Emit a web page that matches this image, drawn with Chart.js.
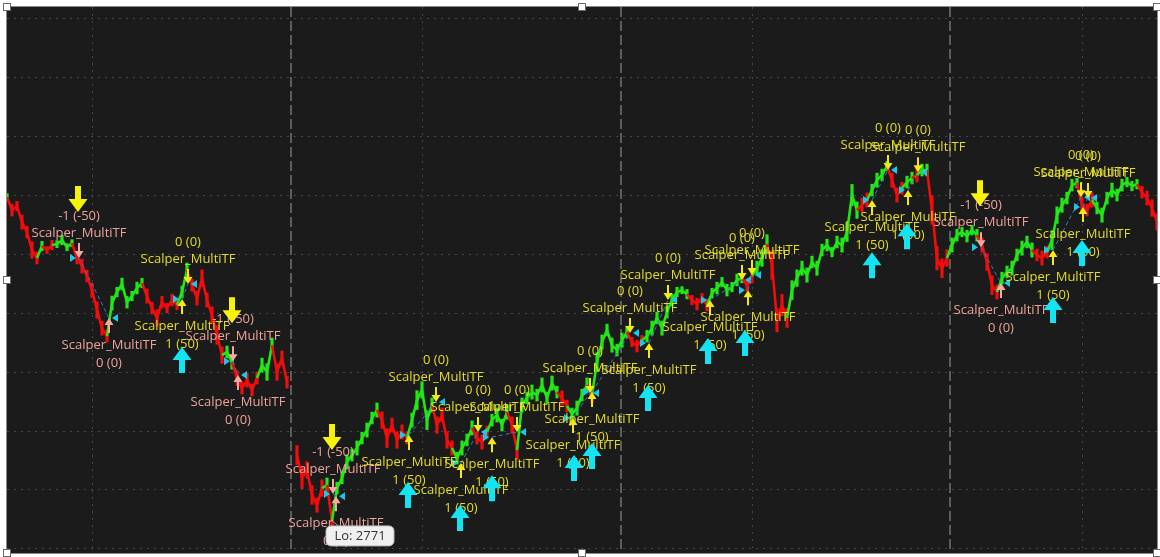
<!DOCTYPE html>
<html>
<head>
<meta charset="utf-8">
<script src="https://cdn.jsdelivr.net/npm/chart.js@4.4.1/dist/chart.umd.min.js"></script>
<style>
  html, body { margin: 0; padding: 0; background: #fff; }
  #frame { position: absolute; left: 6px; top: 6px; width: 1150px; height: 546px; border: 1px solid #8c8c8c; background: #1b1b1b; }
  #frame canvas { display: block; }
  .handle { position: absolute; width: 6px; height: 6px; background: #fff; border: 1px solid #6a6a6a; }
</style>
</head>
<body>
<div id="frame"><canvas id="c" width="1150" height="546"></canvas></div>
<script>
// price samples, one every 5 bars (null = session gap)
const priceBars = [
  2784.91, 2784.36, 2784.53, 2783.85, 2783.43, 2782.67, 2782.33, 2782.84, 2782.67, 2782.88,
  2782.92, 2783.09, 2782.79, 2782.96, 2782.33, 2781.99, 2781.57, 2780.97, 2780.13, 2779.36,
  2779.02, 2780.42, 2780.89, 2781.23, 2780.46, 2780.72, 2781.06, 2781.27, 2780.72, 2780.21,
  2779.79, 2780.46, 2780.21, 2780.55, 2780.34, 2780.89, 2781.82, 2781.18, 2780.63, 2781.48,
  2780.55, 2779.91, 2779.07, 2778.22, 2778.35, 2777.92, 2777.24, 2776.82, 2777.16, 2776.74,
  2777.24, 2777.79, 2777.50, 2778.64, 2777.50, 2778.09, 2777.07, null, 2773.98, 2773.01,
  2773.35, 2772.29, 2771.86, 2772.58, 2772.71, 2771.19, 2772.58, 2773.01, 2773.69, 2773.98,
  2774.28, 2774.70, 2775.04, 2775.55, 2775.89, 2775.46, 2774.70, 2775.25, 2774.62, 2774.96,
  2774.70, 2775.46, 2776.31, 2776.74, 2775.46, 2776.10, 2775.25, 2775.68, 2774.62, 2774.28,
  2773.85, 2774.28, 2774.62, 2775.13, 2774.70, 2774.53, 2774.96, 2775.46, 2775.68, 2775.25,
  2775.80, 2775.25, 2774.19, 2776.10, 2776.40, 2776.65, 2776.52, 2776.95, 2776.40, 2777.03,
  2776.65, 2776.40, 2776.06, 2775.72, 2775.97, 2776.52, 2776.95, 2776.52, 2777.92, 2778.77,
  2779.28, 2778.64, 2778.43, 2778.85, 2779.19, 2778.77, 2778.60, 2778.85, 2779.02, 2779.36,
  2779.79, 2779.36, 2780.04, 2780.55, 2780.89, 2780.97, 2780.80, 2780.55, 2780.38, 2780.63,
  2780.34, 2780.85, 2781.06, 2781.31, 2780.97, 2781.10, 2781.40, 2781.48, 2781.18, 2781.57,
  2781.90, 2782.33, 2782.92, 2782.03, 2779.70, 2780.34, 2779.79, 2780.97, 2781.48, 2781.90,
  2781.61, 2782.16, 2781.90, 2782.67, 2782.88, 2782.58, 2783.01, 2782.88, 2783.43, 2785.00,
  2784.36, 2784.57, 2784.79, 2785.21, 2785.63, 2785.85, 2786.23, 2785.63, 2785.00, 2785.29,
  2785.55, 2785.72, 2785.85, 2786.06, 2786.06, 2784.36, 2782.33, 2781.90, 2782.33, 2782.88,
  2783.30, 2783.43, 2783.26, 2783.51, 2783.30, 2782.88, 2782.16, 2781.18, 2780.89, 2781.48,
  2781.74, 2781.90, 2782.46, 2782.75, 2783.01, 2782.67, 2782.46, 2782.33, 2782.58, 2783.09,
  2784.15, 2784.57, 2784.87, 2785.42, 2785.51, 2784.57, 2784.36, 2784.79, 2784.45, 2784.15,
  2784.87, 2785.21, 2785.00, 2785.42, 2785.55, 2785.38, 2785.46, 2785.12, 2784.87, 2784.45,
  2783.85
];
// high-low spread of the ticks inside each sample
const barRange = [
  .3, .5, .4, .6, .5, .7, .5, .4, .3, .4,
  .3, .4, .3, .3, .5, .6, .5, .6, .7, .6,
  .5, .6, .4, .5, .5, .4, .5, .4, .6, .5,
  .7, .5, .4, .5, .4, .5, .6, .5, .6, .7,
  .6, .7, .8, .7, .5, .6, .6, .5, .6, .5,
  .5, .6, .7, .6, .7, .6, .5, 0, .8, .9,
  .7, .8, .6, .7, .6, .4, .5, .5, .6, .5,
  .6, .5, .6, .5, .6, .7, .8, .6, .7, .6,
  .5, .6, .8, .7, .8, .6, .7, .6, .7, .6,
  .5, .6, .5, .6, .5, .6, .5, .5, .6, .5,
  .6, .7, .8, .6, .5, .6, .5, .6, .5, .6,
  .5, .6, .5, .5, .6, .5, .6, .6, .8, .6,
  .5, .6, .5, .6, .5, .4, .5, .4, .5, .6,
  .5, .6, .5, .5, .4, .3, .4, .4, .5, .4,
  .5, .4, .5, .4, .5, .4, .5, .4, .5, .6,
  .6, .7, .8, 1.2, 1.0, .9, .8, .8, .7, .6,
  .6, .5, .6, .5, .5, .4, .5, .6, .8, .9,
  .7, .6, .6, .5, .6, .5, .4, .6, .6, .5,
  .5, .5, .6, .5, .5, 1.2, 1.0, .8, .7, .6,
  .5, .4, .5, .4, .5, .6, .7, .8, .6, .5,
  .5, .6, .5, .6, .5, .6, .5, .6, .5, .8,
  .7, .6, .5, .5, .4, .6, .5, .6, .5, .6,
  .5, .6, .5, .5, .4, .4, .4, .5, .6, .7,
  .7
];
// trend colour per sample: G = up, R = down
const barTrend = (
  'GRRRRRRGRR' + 'GGGGRRRRRR' + 'RGGGGGGGRR' + 'RRRRRGGRRR' + 'RRRRGGRRRR' +
  'RGGGRRRRRR' + 'RRRRGRGGGG' + 'GGGGGRRRRR' + 'RGGGGGRRRR' + 'GGGGRRRGGG' +
  'GRRGGGGGGG' + 'GRRGGGGRGG' + 'GGGGGRRRGG' + 'GGGGGGGRRR' + 'RGGGGGGGRR' +
  'GGGRRRRGGG' + 'GGGGGGGGGG' + 'GRRGGGGRRR' + 'GGRGGRRRRG' + 'GGGGGRRRRG' +
  'GGGGGGRRRG' + 'GGGGGRRRGG' + 'GGGGGGGRRR' + 'R'
).split('');
const barStep = 5;
const totalBars = 1150;

const gridPrices = [2770, 2772.5, 2775, 2777.5, 2780, 2782.5, 2785, 2787.5, 2790, 2792.5];
const timeLines = [85, 415, 745, 1075];
const sessionBreaks = [284, 614, 943];

// strategy orders (Scalper_MultiTF)
const trades = [
  {side: 'short', inBar: 72,   inPrice: 2782.33, outBar: 102,  outPrice: 2779.79},
  {side: 'long',  inBar: 175,  inPrice: 2780.59, outBar: 181,  outPrice: 2781.23},
  {side: 'short', inBar: 226,  inPrice: 2777.96, outBar: 231,  outPrice: 2777.37},
  {side: 'short', inBar: 326,  inPrice: 2772.33, outBar: 329,  outPrice: 2772.24},
  {side: 'long',  inBar: 402,  inPrice: 2774.83, outBar: 429,  outPrice: 2776.23},
  {side: 'long',  inBar: 454,  inPrice: 2773.64, outBar: 471,  outPrice: 2774.96},
  {side: 'long',  inBar: 485,  inPrice: 2774.74, outBar: 510,  outPrice: 2774.96},
  {side: 'long',  inBar: 566,  inPrice: 2775.55, outBar: 583,  outPrice: 2776.61},
  {side: 'long',  inBar: 585,  inPrice: 2776.65, outBar: 623,  outPrice: 2779.15},
  {side: 'long',  inBar: 642,  inPrice: 2778.73, outBar: 661,  outPrice: 2780.55},
  {side: 'long',  inBar: 703,  inPrice: 2780.55, outBar: 735,  outPrice: 2781.40},
  {side: 'long',  inBar: 741,  inPrice: 2780.97, outBar: 745,  outPrice: 2781.61},
  {side: 'long',  inBar: 865,  inPrice: 2784.79, outBar: 881,  outPrice: 2786.06},
  {side: 'long',  inBar: 901,  inPrice: 2785.21, outBar: 911,  outPrice: 2785.97},
  {side: 'short', inBar: 974,  inPrice: 2782.79, outBar: 994,  outPrice: 2781.27},
  {side: 'long',  inBar: 1046, inPrice: 2782.67, outBar: 1074, outPrice: 2784.91},
  {side: 'long',  inBar: 1076, inPrice: 2784.49, outBar: 1081, outPrice: 2784.87}
];
const strategyName = 'Scalper_MultiTF';
const orderText = {longIn: '1 (50)', longOut: '0 (0)', shortIn: '-1 (-50)', shortOut: '0 (0)'};

// study arrows (tip price)
const bigUpBars = [175, 401, 453, 485, 567, 585, 641, 701, 738, 865, 900, 1046, 1075];
const bigUpPrices = [2778.56, 2772.84, 2771.86, 2773.13, 2773.98, 2774.49, 2776.95, 2778.94, 2779.28, 2782.58, 2783.81, 2780.68, 2783.09];
const bigDownBars = [71, 225, 325, 973];
const bigDownPrices = [2784.28, 2779.57, 2774.19, 2784.53];

const GREEN = '#22e618', RED = '#f20c0c';
const YELLOW_TXT = '#e2dc2a', SALMON_TXT = '#eda29a';
const YELLOW_ARR = '#f2ea16', SALMON_ARR = '#f4aaa2';
const BIG_YELLOW = '#f6f20a', BIG_CYAN = '#12e4f4', TRI = '#1cc8e8';

const trendColor = i => barTrend[i] === 'G' ? GREEN : RED;

function smallArrow(ctx, px, py, up, color) {
  const s = up ? 1 : -1;
  ctx.fillStyle = color;
  ctx.beginPath();
  ctx.moveTo(px, py);
  ctx.lineTo(px + 4.5, py + s * 7);
  ctx.lineTo(px + 1, py + s * 7);
  ctx.lineTo(px + 1, py + s * 15);
  ctx.lineTo(px - 1, py + s * 15);
  ctx.lineTo(px - 1, py + s * 7);
  ctx.lineTo(px - 4.5, py + s * 7);
  ctx.closePath();
  ctx.fill();
}

function bigArrow(ctx, px, py, up, color) {
  const s = up ? 1 : -1;
  ctx.fillStyle = color;
  ctx.beginPath();
  ctx.moveTo(px, py);
  ctx.lineTo(px + 9.5, py + s * 13);
  ctx.lineTo(px + 3, py + s * 13);
  ctx.lineTo(px + 3, py + s * 26);
  ctx.lineTo(px - 3, py + s * 26);
  ctx.lineTo(px - 3, py + s * 13);
  ctx.lineTo(px - 9.5, py + s * 13);
  ctx.closePath();
  ctx.fill();
}

function triangle(ctx, px, py, right) {
  const d = right ? 1 : -1;
  ctx.fillStyle = TRI;
  ctx.beginPath();
  ctx.moveTo(px, py);
  ctx.lineTo(px - d * 6, py - 4);
  ctx.lineTo(px - d * 6, py + 4);
  ctx.closePath();
  ctx.fill();
}

// order marker: small arrow pointing at the price and two text lines
function orderMark(ctx, px, py, below, color, arrowColor, line1, line2) {
  smallArrow(ctx, px, py, below, arrowColor);
  ctx.fillStyle = color;
  if (below) {
    ctx.fillText(line1, px, py + 27);
    ctx.fillText(line2, px, py + 45);
  } else {
    ctx.fillText(line1, px, py - 25);
    ctx.fillText(line2, px, py - 42);
  }
}

const signalPlugin = {
  id: 'signals',
  afterDatasetsDraw(chart) {
    const {ctx, scales} = chart;
    const xs = scales.x, ys = scales.y;
    ctx.save();

    // entry/exit connectors
    trades.forEach(t => {
      const x1 = xs.getPixelForValue(t.inBar), y1 = ys.getPixelForValue(t.inPrice);
      const x2 = xs.getPixelForValue(t.outBar), y2 = ys.getPixelForValue(t.outPrice);
      const win = t.side === 'long' ? t.outPrice >= t.inPrice : t.outPrice <= t.inPrice;
      ctx.strokeStyle = win ? '#2f7fd0' : '#d05a6a';
      ctx.lineWidth = 1;
      ctx.setLineDash([4, 3]);
      ctx.beginPath(); ctx.moveTo(x1, y1); ctx.lineTo(x2, y2); ctx.stroke();
      ctx.setLineDash([]);
      triangle(ctx, x1 - 3, y1, true);
      triangle(ctx, x2 + 3, y2, false);
    });

    ctx.font = '13px "Open Sans"';
    ctx.textAlign = 'center';
    ctx.textBaseline = 'middle';
    trades.forEach(t => {
      const x1 = xs.getPixelForValue(t.inBar), y1 = ys.getPixelForValue(t.inPrice);
      const x2 = xs.getPixelForValue(t.outBar), y2 = ys.getPixelForValue(t.outPrice);
      if (t.side === 'long') {
        orderMark(ctx, x1, y1, true, YELLOW_TXT, YELLOW_ARR, strategyName, orderText.longIn);
        orderMark(ctx, x2, y2, false, YELLOW_TXT, YELLOW_ARR, strategyName, orderText.longOut);
      } else {
        orderMark(ctx, x1, y1, false, SALMON_TXT, SALMON_ARR, strategyName, orderText.shortIn);
        orderMark(ctx, x2, y2, true, SALMON_TXT, SALMON_ARR, strategyName, orderText.shortOut);
      }
    });

    bigUpBars.forEach((b, i) => bigArrow(ctx, xs.getPixelForValue(b), ys.getPixelForValue(bigUpPrices[i]), true, BIG_CYAN));
    bigDownBars.forEach((b, i) => bigArrow(ctx, xs.getPixelForValue(b), ys.getPixelForValue(bigDownPrices[i]), false, BIG_YELLOW));

    // low bubble
    let lo = Infinity, loIdx = 0;
    priceBars.forEach((p, i) => { if (p !== null && p < lo) { lo = p; loIdx = i; } });
    const lx = xs.getPixelForValue(loIdx * barStep), ly = ys.getPixelForValue(lo);
    ctx.strokeStyle = '#9a9a9a';
    ctx.lineWidth = 1;
    ctx.beginPath(); ctx.moveTo(lx, ly); ctx.lineTo(lx + 9, ly + 7); ctx.stroke();
    ctx.fillStyle = '#f0f0f0';
    ctx.strokeStyle = '#b8b8b8';
    ctx.beginPath();
    ctx.roundRect(lx - 6, ly + 5, 68, 20, 5);
    ctx.fill(); ctx.stroke();
    ctx.fillStyle = '#333';
    ctx.font = '13px "Open Sans"';
    ctx.fillText('Lo: ' + Math.round(lo), lx + 28, ly + 15.5);

    ctx.restore();
  }
};

const hiddenTicks = {display: false};
new Chart(document.getElementById('c').getContext('2d'), {
  type: 'line',
  data: {
    datasets: [{
      type: 'line',
      order: 1,
      data: priceBars.map((p, i) => ({x: i * barStep, y: p})),
      borderWidth: 2.6,
      pointRadius: 0,
      tension: 0,
      spanGaps: false,
      borderColor: GREEN,
      segment: {
        borderColor: c => trendColor(c.p1DataIndex)
      }
    }, {
      // tick spread inside each sample
      type: 'bar',
      order: 2,
      data: priceBars.map((p, i) => ({x: i * barStep, y: p === null ? null : [p - barRange[i] / 2, p + barRange[i] / 2]})),
      backgroundColor: priceBars.map((p, i) => trendColor(i)),
      barThickness: 2.5,
      borderWidth: 0
    }]
  },
  options: {
    responsive: false,
    animation: false,
    devicePixelRatio: 1,
    layout: {padding: 0},
    plugins: {legend: {display: false}, tooltip: {enabled: false}},
    scales: {
      x: {
        type: 'linear', min: 0, max: totalBars, offset: false,
        ticks: hiddenTicks,
        grid: {color: '#464646', lineWidth: 1, drawTicks: false, offset: false},
        border: {display: false, dash: [2, 5]},
        afterBuildTicks: s => { s.ticks = timeLines.map(v => ({value: v})); }
      },
      session: {
        type: 'linear', axis: 'x', position: 'bottom', min: 0, max: totalBars,
        ticks: hiddenTicks,
        grid: {color: '#5c5c5c', lineWidth: 2, drawTicks: false},
        border: {display: false, dash: [10, 4]},
        afterBuildTicks: s => { s.ticks = sessionBreaks.map(v => ({value: v})); }
      },
      y: {
        min: 2769.83, max: 2792.97,
        ticks: hiddenTicks,
        grid: {color: '#464646', lineWidth: 1, drawTicks: false},
        border: {display: false, dash: [2, 5]},
        afterBuildTicks: s => { s.ticks = gridPrices.map(v => ({value: v})); }
      }
    }
  },
  plugins: [signalPlugin]
});

// selection handles around the panel
[[6.5, 6.5], [581.5, 6.5], [1156.5, 6.5], [6.5, 280], [1156.5, 280], [6.5, 553], [581.5, 553], [1156.5, 553]].forEach(([cx, cy]) => {
  const h = document.createElement('div');
  h.className = 'handle';
  h.style.left = (cx - 4) + 'px';
  h.style.top = (cy - 4) + 'px';
  document.body.appendChild(h);
});
</script>
</body>
</html>
